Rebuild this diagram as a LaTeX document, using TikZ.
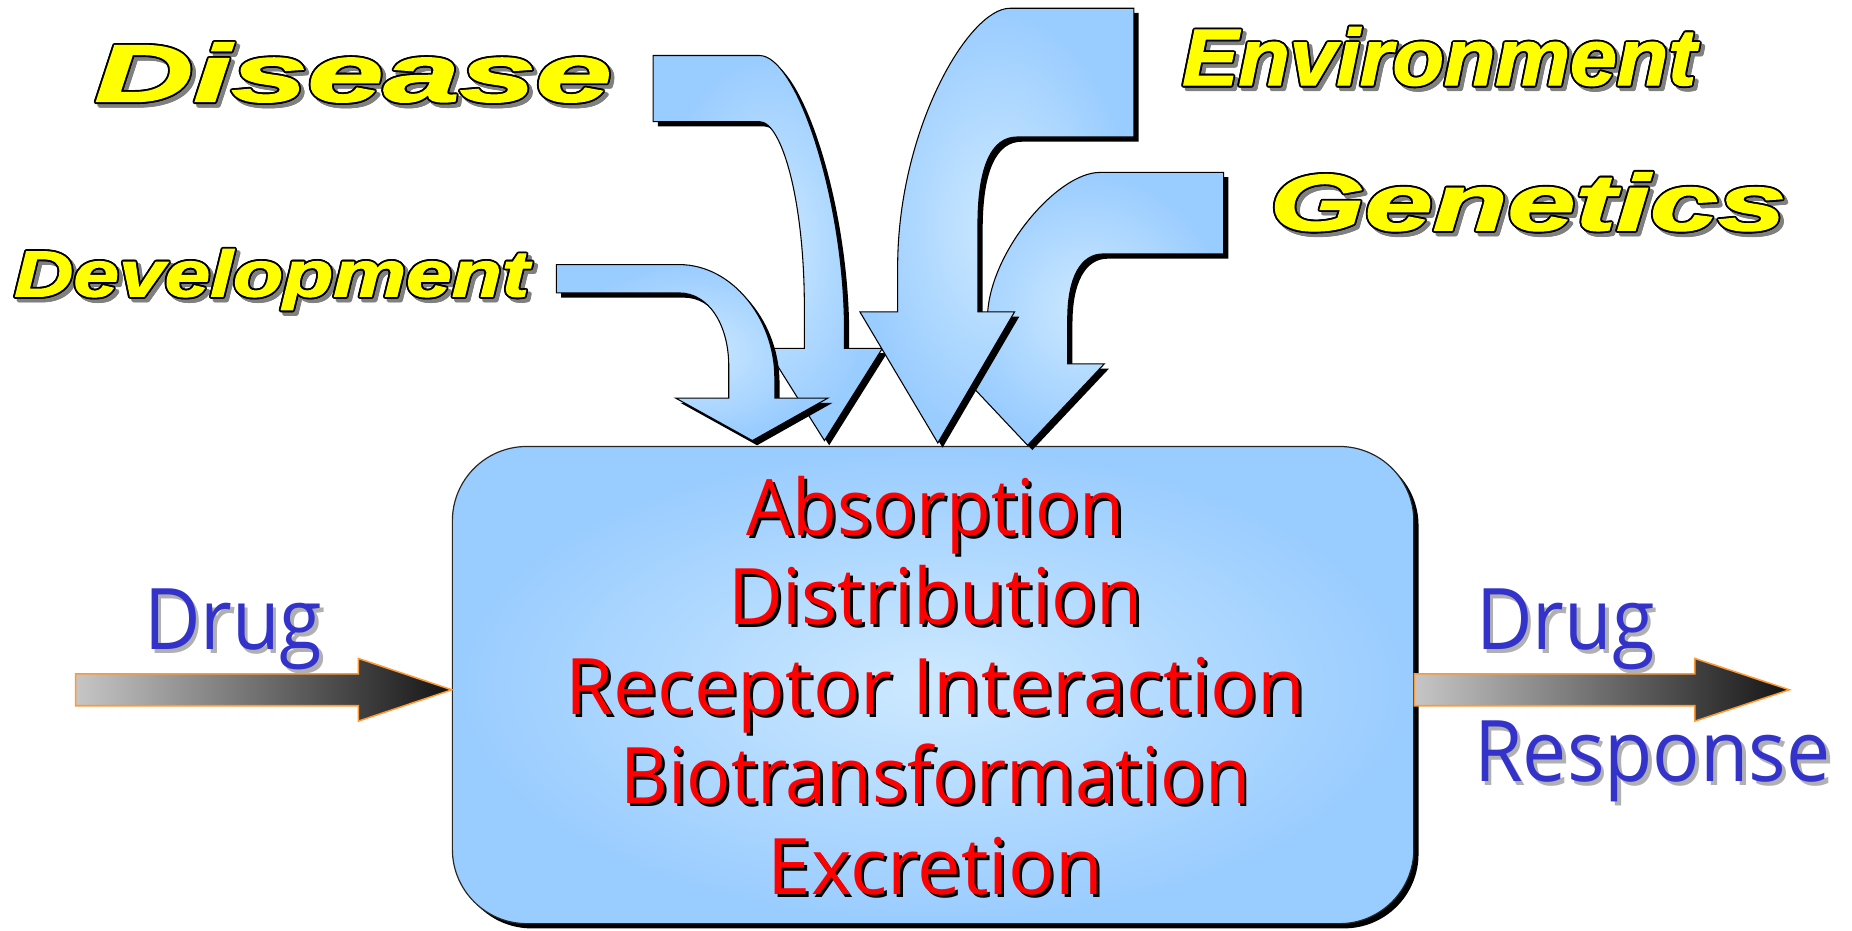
\documentclass[tikz,border=0pt]{standalone}
\usepackage{fontspec}
\usepackage{graphicx}
\usetikzlibrary{calc}
\newfontfamily\comicfont{Open Sans}
\newfontfamily\heavyfont[FakeBold=1.5]{Liberation Sans}
\definecolor{bluedark}{HTML}{99CCFF}
\definecolor{bluelight}{HTML}{CDE9FF}
\definecolor{textred}{HTML}{FF0000}
\definecolor{drugblue}{HTML}{3333CC}
\definecolor{shadowgray}{HTML}{B0B0B0}
\definecolor{labelgray}{HTML}{808080}
\definecolor{labelyellow}{HTML}{FFFF00}
\definecolor{arroworange}{HTML}{FF9933}
\definecolor{arrowgrayL}{HTML}{C6C6C6}
\definecolor{arrowdark}{HTML}{141414}

\newcommand\fitw[2]{\resizebox{#1pt}{\height}{#2}}
\newcommand\fitwh[3]{\resizebox{#1pt}{#2pt}{#3}}

\tikzset{
  ytxt/.style={anchor=base west, inner sep=0pt, outer sep=0pt, font={\fontsize{50}{50}\selectfont}},
  redtxt/.style={anchor=base, inner sep=0pt, outer sep=0pt, font={\comicfont\fontsize{66}{66}\selectfont}},
  bluetxt/.style={anchor=base west, inner sep=0pt, outer sep=0pt, font={\comicfont\fontsize{72}{72}\selectfont}},
  bentfill/.style={draw=black, line width=0.9pt, line join=miter, inner color=bluelight, outer color=bluedark},
  bentshadow/.style={fill=black, shift={(4,4)}},
  drugarrow/.style={left color=arrowgrayL, right color=arrowdark, draw=arroworange, line width=1.3pt, line join=miter},
  boxstyle/.style={rounded corners=63pt, minimum width=814pt, minimum height=404pt, inner sep=0pt},
}

% name, x, baseline y, width, height, text
\newcommand\yellowlabel[6]{%
  \foreach \a in {0,30,...,330}{%
    \node[ytxt, text=labelgray, xshift={3pt+1.6pt*cos(\a)}, yshift={-3pt+1.6pt*sin(\a)}] at (#2,#3) {\fitwh{#4}{#5}{\heavyfont\bfseries\itshape #6}};
  }%
  \foreach \a in {0,30,...,330}{%
    \node[ytxt, text=black, xshift={1.6pt*cos(\a)}, yshift={1.6pt*sin(\a)}] at (#2,#3) {\fitwh{#4}{#5}{\heavyfont\bfseries\itshape #6}};
  }%
  \node[ytxt, text=labelyellow] (#1) at (#2,#3) {\fitwh{#4}{#5}{\heavyfont\bfseries\itshape #6}};
}

% name, baseline y, width, text
\newcommand\redline[4]{%
  \node[redtxt, text=black, xshift=2.5pt, yshift=-2.5pt] at (792,#2) {\fitw{#3}{#4}};
  \node[redtxt, text=textred] (#1) at (792,#2) {\fitw{#3}{#4}};
}

% name, x, baseline y, width, text
\newcommand\blueword[5]{%
  \node[bluetxt, text=shadowgray, xshift=3pt, yshift=-3pt] at (#2,#3) {\fitw{#4}{#5}};
  \node[bluetxt, text=drugblue] (#1) at (#2,#3) {\fitw{#4}{#5}};
}

\newcommand\bentarrow[1]{%
  \fill[bentshadow] #1;
  \path[bentfill] #1;
}

\begin{document}
\begin{tikzpicture}[x=1pt, y=-1pt]
\useasboundingbox (0,0) rectangle (1568,788);

% main box
\node[boxstyle, fill=black] (boxshadow) at (794,584) {};
\node[boxstyle, draw=black!85, line width=1pt, inner color=bluelight, outer color=bluedark] (box) at (790,580) {};

% bent arrows (back to front)
\bentarrow{(553,47) -- (643,47) .. controls (675,47) and (715,170) .. (715,280) -- (715,295) -- (747,295) -- (698,373) -- (649,295) -- (681,295) -- (681,260) .. controls (681,170) and (662,103) .. (643,103) -- (553,103) -- cycle}
\bentarrow{(1036,146) -- (1036,215) -- (934,215) .. controls (915,215) and (904,235) .. (904,270) -- (904,308) -- (935,308) -- (870,377) -- (805,308) -- (836,308) -- (836,270) .. controls (836,215) and (895,146) .. (931,146) -- cycle}
\bentarrow{(471,224) -- (575,224) .. controls (620,224) and (656,270) .. (656,320) -- (656,337) -- (701,337) -- (637,373) -- (572,337) -- (617,337) -- (617,310) .. controls (617,275) and (600,248) .. (575,248) -- (471,248) -- cycle}
\bentarrow{(960,7) -- (960,116) -- (861,116) .. controls (840,116) and (828,140) .. (828,190) -- (828,264) -- (859,264) -- (794,375) -- (728,264) -- (760,264) -- (760,226) .. controls (760,110) and (820,7) .. (855,7) -- cycle}

% yellow labels
\yellowlabel{disease}{80}{86}{438}{50}{Disease}
\yellowlabel{development}{12}{251}{436}{40}{Development}
\yellowlabel{environment}{1001}{72}{435}{49}{Environment}
\yellowlabel{genetics}{1075}{195}{437}{49}{Genetics}

% red process text
\redline{absorption}{453}{320}{Absorption}
\redline{distribution}{529}{351}{Distribution}
\redline{receptor}{605}{627}{Receptor Interaction}
\redline{biotrans}{680}{533}{Biotransformation}
\redline{excretion}{757}{284}{Excretion}

% drug arrows
\coordinate (ltail) at (64,584);
\coordinate (ltip) at (box.west |- ltail);
\path[drugarrow] ($(ltail)+(0,-13.5)$) -- ($(ltip)+(-79,-13.5)$) -- ($(ltip)+(-79,-26.5)$) -- (ltip) -- ($(ltip)+(-79,26.5)$) -- ($(ltip)+(-79,13.5)$) -- ($(ltail)+(0,13.5)$) -- cycle;
\coordinate (rtip) at (1515,584);
\coordinate (rtail) at (box.east |- rtip);
\path[drugarrow] ($(rtail)+(0,-13.5)$) -- ($(rtip)+(-80,-13.5)$) -- ($(rtip)+(-80,-26.5)$) -- (rtip) -- ($(rtip)+(-80,26.5)$) -- ($(rtip)+(-80,13.5)$) -- ($(rtail)+(0,13.5)$) -- cycle;

% blue words
\blueword{drugin}{122}{550}{151}{Drug}
\blueword{drugout}{1250}{550}{151}{Drug}
\blueword{response}{1248}{662}{302}{Response}
\end{tikzpicture}
\end{document}
